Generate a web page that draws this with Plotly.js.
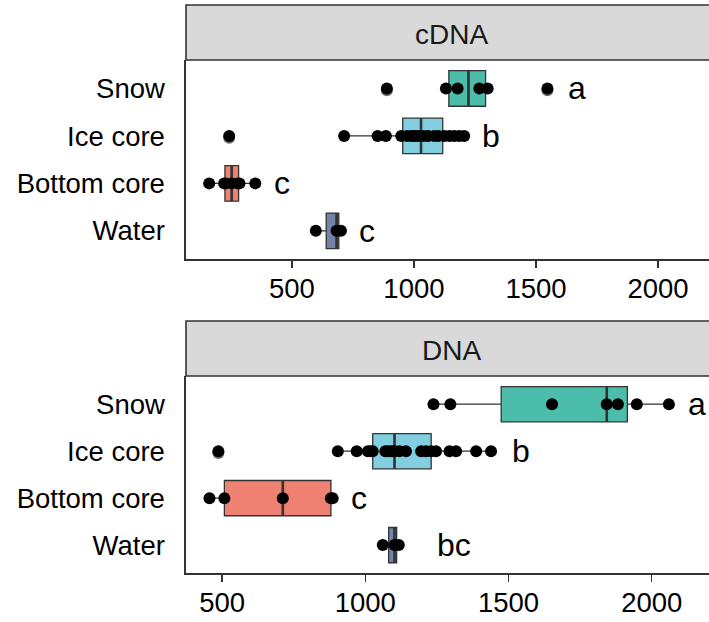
<!DOCTYPE html>
<html><head><meta charset="utf-8">
<script src="https://cdn.plot.ly/plotly-3.0.1.min.js"></script>
<style>html,body{margin:0;padding:0;background:#fff;} #chart{width:709px;height:622px;}</style>
</head><body><div id="chart"></div>
<script>
// ---- data ----
const categories = ['Snow', 'Ice core', 'Bottom core', 'Water'];
const panelTitles = ['cDNA', 'DNA'];
const cdnaSnow   = [889, 1131, 1179, 1268, 1302, 1547];
const cdnaIce    = [243, 714, 851, 885, 948, 972, 990, 1005, 1018, 1040, 1058, 1083, 1100, 1124, 1145, 1165, 1186, 1206];
const cdnaBottom = [161, 222, 229, 253, 278, 285, 350];
const cdnaWater  = [598, 683, 701];
const dnaSnow    = [1238, 1297, 1652, 1843, 1882, 1948, 2060];
const dnaIce     = [487, 904, 970, 1009, 1018, 1026, 1070, 1079, 1090, 1096, 1102, 1119, 1142, 1195, 1212, 1230, 1247, 1294, 1317, 1387, 1439];
const dnaBottom  = [456, 508, 712, 880, 886];
const dnaWater   = [1061, 1102, 1117];
const cdnaLetters = ['a', 'b', 'c', 'c'];
const dnaLetters  = ['a', 'b', 'c', 'bc'];
const cdnaLetterX = [1668, 1316, 459, 807];
const dnaLetterX  = [2158, 1544, 978, 1308];
const xTickVals = [500, 1000, 1500, 2000];

// ---- styling ----
const fills = ['#4DBDAB', '#82CFE2', '#EE8172', '#7384AB'];
const rowPos = [3, 2, 1, 0];
const FONT = 'Liberation Sans, Arial, Helvetica, sans-serif';
const DARK = '#333333';

function q7(s, p) {
  const h = (s.length - 1) * p, lo = Math.floor(h), hi = Math.ceil(h);
  return s[lo] + (h - lo) * (s[hi] - s[lo]);
}
function stats(vals) {
  const s = vals.slice().sort((a, b) => a - b);
  const q1 = q7(s, 0.25), med = q7(s, 0.5), q3 = q7(s, 0.75), iqr = q3 - q1;
  const lo = q1 - 1.5 * iqr, hi = q3 + 1.5 * iqr;
  const inside = s.filter(v => v >= lo && v <= hi);
  return {q1, med, q3, lf: Math.min(...inside), uf: Math.max(...inside),
          out: s.filter(v => v < lo || v > hi)};
}

const panels = [
  {series: [cdnaSnow, cdnaIce, cdnaBottom, cdnaWater], letters: cdnaLetters, lx: cdnaLetterX, xa: 'x', ya: 'y'},
  {series: [dnaSnow, dnaIce, dnaBottom, dnaWater], letters: dnaLetters, lx: dnaLetterX, xa: 'x2', ya: 'y2'}
];

const traces = [];
const annotations = [];
panels.forEach(p => {
  p.series.forEach((vals, i) => {
    const st = stats(vals), y = rowPos[i];
    traces.push({
      type: 'box', orientation: 'h', y: [y],
      q1: [st.q1], median: [st.med], q3: [st.q3], lowerfence: [st.lf], upperfence: [st.uf],
      width: 0.75, whiskerwidth: 0, boxpoints: false,
      fillcolor: fills[i], line: {color: DARK, width: 1.3},
      xaxis: p.xa, yaxis: p.ya, showlegend: false, hoverinfo: 'skip'
    });
    traces.push({
      type: 'scatter', mode: 'lines', x: [st.med, st.med], y: [y - 0.375, y + 0.375],
      line: {color: DARK, width: 2.6}, xaxis: p.xa, yaxis: p.ya, showlegend: false, hoverinfo: 'skip'
    });
    if (st.out.length) {
      traces.push({
        type: 'scatter', mode: 'markers', x: st.out, y: st.out.map(() => y - 0.04),
        marker: {color: '#6a6a6a', size: 12}, xaxis: p.xa, yaxis: p.ya, showlegend: false, hoverinfo: 'skip'
      });
    }
    traces.push({
      type: 'scatter', mode: 'markers', x: vals, y: vals.map(() => y),
      marker: {color: '#000', size: 12}, xaxis: p.xa, yaxis: p.ya, showlegend: false, hoverinfo: 'skip', cliponaxis: false
    });
    annotations.push({
      x: p.lx[i], y: y, xref: p.xa, yref: p.ya, text: p.letters[i], showarrow: false,
      xanchor: 'center', yanchor: 'middle', font: {family: FONT, size: 32, color: '#000'}
    });
  });
});

const H = 622;
const py = v => (H - v) / H;
const strips = [[5, 60], [321, 376]];
const shapes = strips.map(s => ({
  type: 'rect', xref: 'paper', yref: 'paper', x0: 0, x1: 1.05, y0: py(s[1]), y1: py(s[0]),
  fillcolor: '#d9d9d9', line: {color: DARK, width: 1.6}, layer: 'above'
}));
strips.forEach((s, k) => annotations.push({
  xref: 'paper', yref: 'paper', x: 0.507, y: py((s[0] + s[1]) / 2 + 2), text: panelTitles[k],
  showarrow: false, xanchor: 'center', yanchor: 'middle', font: {family: FONT, size: 28, color: '#1a1a1a'}
}));

const xaxisBase = {
  tickvals: xTickVals, ticks: 'outside', ticklen: 7, tickwidth: 1.4, tickcolor: DARK,
  showline: true, linecolor: DARK, linewidth: 1.6, showgrid: false, zeroline: false,
  tickfont: {family: FONT, size: 27.5, color: '#000'}, ticklabelstandoff: -3, fixedrange: true
};
const yaxisBase = {
  range: [-0.6, 3.6], tickvals: rowPos, ticktext: categories, ticks: '',
  showline: true, linecolor: DARK, linewidth: 1.6, showgrid: false, zeroline: false,
  tickfont: {family: FONT, size: 27.5, color: '#000'}, ticklabelstandoff: 14, fixedrange: true
};

const layout = {
  width: 709, height: 622, margin: {l: 186, r: 0, t: 0, b: 0},
  paper_bgcolor: '#fff', plot_bgcolor: '#fff', showlegend: false,
  font: {family: FONT, size: 27, color: '#000'},
  xaxis: Object.assign({}, xaxisBase, {domain: [0, 1], anchor: 'y', range: [66, 2209]}),
  yaxis: Object.assign({}, yaxisBase, {domain: [py(259.3), py(60)], anchor: 'x'}),
  xaxis2: Object.assign({}, xaxisBase, {domain: [0, 1], anchor: 'y2', range: [374, 2200]}),
  yaxis2: Object.assign({}, yaxisBase, {domain: [py(573.3), py(376)], anchor: 'x2'}),
  shapes: shapes, annotations: annotations
};

Plotly.newPlot('chart', traces, layout, {displayModeBar: false, staticPlot: true});
</script>
</body></html>
